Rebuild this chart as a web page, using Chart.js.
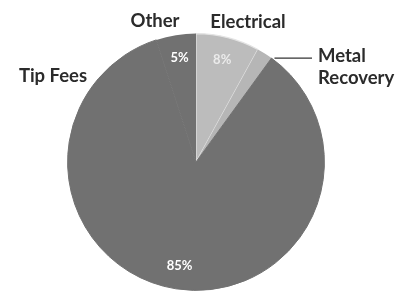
<!DOCTYPE html>
<html>
<head>
<meta charset="utf-8">
<script src="https://cdn.jsdelivr.net/npm/chart.js@4.4.1/dist/chart.umd.min.js"></script>
<style>
html, body { margin: 0; padding: 0; background: #fff; }
#wrap { width: 414px; height: 291px; }
</style>
</head>
<body>
<div id="wrap"><canvas id="pieChart"></canvas></div>
<script>
// revenue split, clockwise from 12 o'clock
const categories = ["Electrical", "Metal Recovery", "Tip Fees", "Other"]
const shares = [8, 2, 85, 5]
const pctLabels = ["8%", "", "85%", "5%"]
const sliceColors = ["#bcbcbc", "#b6b6b6", "#717171", "#717171"]

const FONT = "Lato, 'Open Sans', sans-serif"

// text around the pie (canvas coordinates)
const outerText = [
  { text: "Other", x: 155, y: 21 },
  { text: "Electrical", x: 248, y: 22 },
  { text: "Metal", x: 318, y: 56, align: "left" },
  { text: "Recovery", x: 318, y: 78, align: "left" },
  { text: "Tip Fees", x: 53, y: 76 }
]

const labelPlugin = {
  id: 'pieLabels',
  afterDatasetsDraw(chart) {
    const c = chart.ctx
    const arcs = chart.getDatasetMeta(0).data
    c.save()
    c.textBaseline = 'middle'
    c.textAlign = 'center'
    c.font = "bold 13px " + FONT
    arcs.forEach((arc, i) => {
      if (!pctLabels[i]) return
      const mid = (arc.startAngle + arc.endAngle) / 2
      const r = arc.outerRadius * 0.82
      c.fillStyle = i === 0 ? "rgba(255,255,255,0.7)" : "#ffffff"
      c.fillText(pctLabels[i], arc.x + Math.cos(mid) * r, arc.y + Math.sin(mid) * r)
    })

    c.font = "bold 18.5px " + FONT
    c.fillStyle = "#2b2b2b"
    outerText.forEach(t => {
      c.textAlign = t.align || 'center'
      c.fillText(t.text, t.x, t.y)
    })

    // leader line to Metal Recovery slice
    const mr = arcs[1]
    const a = mr.endAngle
    const px = mr.x + Math.cos(a) * mr.outerRadius
    const py = mr.y + Math.sin(a) * mr.outerRadius
    c.strokeStyle = "#333"
    c.lineWidth = 1.3
    c.beginPath()
    c.moveTo(px + 3, py)
    c.lineTo(312, py)
    c.stroke()
    c.restore()
  }
}

const ctx = document.getElementById('pieChart').getContext('2d')

const chart = new Chart(ctx, {
  type: 'pie',
  data: {
    labels: categories,
    datasets: [{
      data: shares,
      backgroundColor: sliceColors,
      borderColor: ["#e4e4e4", "#b6b6b6", "#717171", "#717171"],
      borderWidth: [1.2, 0, 1, 0]
    }]
  },
  options: {
    responsive: true,
    maintainAspectRatio: false,
    animation: false,
    layout: { padding: { left: 20, right: 42, top: 33, bottom: 0 } },
    plugins: {
      legend: { display: false },
      tooltip: { enabled: false }
    }
  },
  plugins: [labelPlugin]
})
</script>
</body>
</html>
